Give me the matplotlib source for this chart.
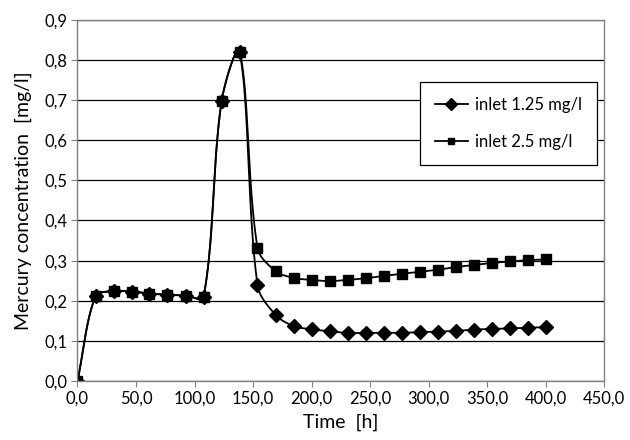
import matplotlib.pyplot as plt
import numpy as np
from matplotlib.ticker import FuncFormatter

plt.rcParams['font.family'] = ['Lato', 'DejaVu Sans']

# Sampling times [h]
time_h = [0.0, 15.4, 30.8, 46.2, 61.5, 76.9, 92.3, 107.7, 123.1, 138.5,
          153.8, 169.2, 184.6, 200.0, 215.4, 230.8, 246.2, 261.5, 276.9,
          292.3, 307.7, 323.1, 338.5, 353.8, 369.2, 384.6, 400.0]

# Mercury concentration at the outlet [mg/l]
inlet_125 = [0.000, 0.211, 0.224, 0.223, 0.218, 0.215, 0.213, 0.209, 0.697, 0.821,
             0.239, 0.165, 0.137, 0.129, 0.124, 0.120, 0.120, 0.120, 0.120,
             0.122, 0.123, 0.125, 0.128, 0.130, 0.131, 0.133, 0.134]
inlet_25 = [0.000, 0.211, 0.224, 0.223, 0.218, 0.215, 0.213, 0.209, 0.697, 0.821,
            0.332, 0.274, 0.257, 0.252, 0.249, 0.252, 0.256, 0.262, 0.267,
            0.272, 0.277, 0.284, 0.289, 0.294, 0.298, 0.301, 0.303]

# rough pixel scale of the axes, used so the smoothing behaves like on screen
SX, SY = 526.7 / 450, 361.2 / 0.9


def smooth(x, y, n=40):
    # Bezier smoothing with tangents weighted by neighbouring chord lengths
    p = np.column_stack([np.asarray(x) * SX, np.asarray(y) * SY])
    p_ext = np.vstack([p[0], p, p[-1]])
    t = np.linspace(0, 1, n)[:, None]
    out = []
    for i in range(len(p) - 1):
        p0, p1, p2, p3 = p_ext[i], p_ext[i + 1], p_ext[i + 2], p_ext[i + 3]
        d0 = np.hypot(*(p1 - p0))
        d1 = np.hypot(*(p2 - p1))
        d2 = np.hypot(*(p3 - p2))
        b1 = p1 + (p2 - p0) * (d1 / (d0 + d1) if d0 + d1 else 0) / 3
        b2 = p2 - (p3 - p1) * (d1 / (d1 + d2) if d1 + d2 else 0) / 3
        seg = ((1 - t) ** 3) * p1 + 3 * ((1 - t) ** 2) * t * b1 \
            + 3 * (1 - t) * t ** 2 * b2 + t ** 3 * p2
        out.append(seg if i == 0 else seg[1:])
    seg = np.vstack(out)
    return seg[:, 0] / SX, seg[:, 1] / SY


fig = plt.figure(figsize=(6.3, 4.4), dpi=100)
ax = fig.add_axes([0.123, 0.134, 0.836, 0.821])

for y, mk, ms, lab in [(inlet_125, 'D', 7.2, 'inlet 1.25 mg/l'),
                       (inlet_25, 's', 6.5, 'inlet 2.5 mg/l')]:
    sx, sy = smooth(time_h, y)
    ax.plot(sx, sy, color='black', lw=1.3)
    ax.plot(time_h, y, linestyle='none', marker=mk, ms=ms, color='black')
    ax.plot([], [], color='black', lw=1.3, marker=mk, ms=ms - 1.5, label=lab)

ax.set_xlim(0, 450)
ax.set_ylim(0, 0.9)
ax.set_xticks(np.arange(0, 451, 50))
ax.set_yticks(np.arange(0, 0.91, 0.1))
ax.xaxis.set_major_formatter(FuncFormatter(lambda v, p: f'{v:.1f}'.replace('.', ',')))
ax.yaxis.set_major_formatter(FuncFormatter(lambda v, p: f'{v:.1f}'.replace('.', ',')))
ax.tick_params(labelsize=12, length=4, color='#808080', direction='out', pad=3)
ax.grid(axis='y', color='black', lw=0.9)
ax.set_axisbelow(True)
for s in ax.spines.values():
    s.set_color('#808080')
    s.set_linewidth(1.0)

ax.set_xlabel('Time  [h]', fontsize=14, labelpad=5)
ax.set_ylabel('Mercury concentration  [mg/l]', fontsize=14, labelpad=9)

leg = ax.legend(loc='upper left', bbox_to_anchor=(0.650, 0.828), borderaxespad=0,
                fontsize=12, frameon=True, fancybox=False, edgecolor='black',
                handlelength=2.0, handletextpad=0.4, borderpad=0.9, labelspacing=1.25)
leg.get_frame().set_linewidth(0.9)
leg.get_frame().set_alpha(1)

fig.savefig('out.png', dpi=100)
